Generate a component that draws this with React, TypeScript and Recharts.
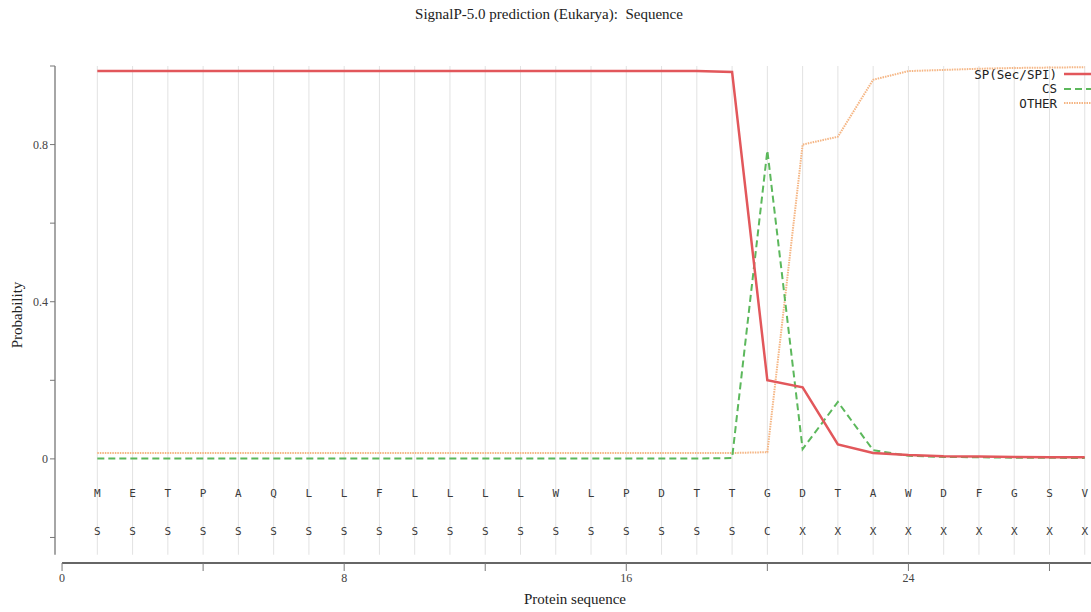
import React from "react";
import {
  ComposedChart, Line, Scatter, XAxis, YAxis, ReferenceLine,
} from "recharts";

// residue positions along the sequence
const positions = [
  1, 2, 3, 4, 5, 6, 7, 8, 9, 10, 11, 12, 13, 14, 15,
  16, 17, 18, 19, 20, 21, 22, 23, 24, 25, 26, 27, 28, 29,
];
const residues = [
  "M", "E", "T", "P", "A", "Q", "L", "L", "F", "L", "L", "L", "L", "W", "L",
  "P", "D", "T", "T", "G", "D", "T", "A", "W", "D", "F", "G", "S", "V",
];
const predLabels = [
  "S", "S", "S", "S", "S", "S", "S", "S", "S", "S", "S", "S", "S", "S", "S",
  "S", "S", "S", "S", "C", "X", "X", "X", "X", "X", "X", "X", "X", "X",
];

const spValues = [
  0.987, 0.987, 0.987, 0.987, 0.987, 0.987, 0.987, 0.987, 0.987, 0.987, 0.987, 0.987, 0.987, 0.987, 0.987,
  0.987, 0.987, 0.987, 0.985, 0.2, 0.182, 0.037, 0.015, 0.01, 0.007, 0.006, 0.005, 0.004, 0.004,
];
const csValues = [
  0.001, 0.001, 0.001, 0.001, 0.001, 0.001, 0.001, 0.001, 0.001, 0.001, 0.001, 0.001, 0.001, 0.001, 0.001,
  0.001, 0.001, 0.001, 0.002, 0.785, 0.025, 0.145, 0.022, 0.008, 0.005, 0.004, 0.003, 0.003, 0.002,
];
const otherValues = [
  0.015, 0.015, 0.015, 0.015, 0.015, 0.015, 0.015, 0.015, 0.015, 0.015, 0.015, 0.015, 0.015, 0.015, 0.015,
  0.015, 0.015, 0.015, 0.015, 0.017, 0.8, 0.82, 0.965, 0.987, 0.99, 0.993, 0.995, 0.996, 0.997,
];

const xTicks = [0, 4, 8, 12, 16, 20, 24, 28];
const xLabelled = [0, 8, 16, 24];
const yTicks = [-0.2, 0, 0.2, 0.4, 0.6, 0.8, 1.0];
const yLabelled = [0, 0.4, 0.8];

const series = [
  { key: "sp", name: "SP(Sec/SPI)", color: "#e2575b", width: 2.5, dash: undefined as string | undefined },
  { key: "cs", name: "CS", color: "#5cb85c", width: 2, dash: "7 4" },
  { key: "other", name: "OTHER", color: "#f5b583", width: 2, dash: "1.5 1" },
];

const data = positions.map((p, i) => ({
  pos: p,
  sp: spValues[i],
  cs: csValues[i],
  other: otherValues[i],
}));

// y positions (data units) of the two letter rows under the curves
const AA_ROW = -0.087;
const LABEL_ROW = -0.186;
const X_MIN = -0.2;
const X_MAX = 30;
const Y_MIN = -0.265;
const GRID_BOTTOM = -0.244;

const aaRow = positions.map((p, i) => ({ pos: p, y: AA_ROW, text: residues[i] }));
const labelRow = positions.map((p, i) => ({ pos: p, y: LABEL_ROW, text: predLabels[i] }));

const mono = "'DejaVu Sans Mono', monospace";
const serif = "'Liberation Serif', 'DejaVu Serif', serif";

// eslint-disable-next-line @typescript-eslint/no-explicit-any
const LetterShape = (props: any) => {
  const { cx, cy, payload } = props;
  return (
    <text x={cx} y={cy} textAnchor="middle" dominantBaseline="central"
      fontFamily={mono} fontSize={11} fill="#3a3a3a">
      {payload.text}
    </text>
  );
};

export default function App() {
  return (
    <div style={{ position: "absolute", left: 0, top: 0, width: 1091, height: 612, overflow: "hidden", background: "#fff" }}>
      <div style={{ position: "absolute", left: 0, width: 1098, top: 6, textAlign: "center", fontFamily: serif, fontSize: 15, color: "#222" }}>
        SignalP-5.0 prediction (Eukarya):&nbsp; Sequence
      </div>

      <ComposedChart width={1130} height={612} data={data}
        margin={{ top: 66, right: 10, left: 15, bottom: 19 }}>
        <XAxis dataKey="pos" type="number" domain={[X_MIN, X_MAX]} ticks={xTicks}
          allowDataOverflow axisLine={false} height={30} tickSize={8}
          tickLine={{ stroke: "#777" }}
          tick={{ fontSize: 12, fontFamily: serif, fill: "#444" }}
          tickFormatter={(v) => (xLabelled.includes(v) ? String(v) : "")} />
        <YAxis type="number" domain={[Y_MIN, 1]} ticks={yTicks} allowDataOverflow
          axisLine={false} width={40} tickSize={5} tickLine={{ stroke: "#777" }}
          tick={{ fontSize: 12, fontFamily: serif, fill: "#444" }}
          tickFormatter={(v) => (yLabelled.some((t) => Math.abs(t - v) < 1e-9) ? String(v) : "")} />

        {positions.map((p) => (
          <ReferenceLine key={`g${p}`} segment={[{ x: p, y: GRID_BOTTOM }, { x: p, y: 1 }]}
            stroke="#e2e2e2" strokeWidth={1} />
        ))}
        <ReferenceLine segment={[{ x: X_MIN, y: GRID_BOTTOM }, { x: X_MIN, y: 1 }]}
          stroke="#888" strokeWidth={1.5} />
        <ReferenceLine segment={[{ x: 0, y: Y_MIN }, { x: X_MAX, y: Y_MIN }]}
          stroke="#666" strokeWidth={1.8} />

        <Scatter data={aaRow} dataKey="y" shape={<LetterShape />} isAnimationActive={false} />
        <Scatter data={labelRow} dataKey="y" shape={<LetterShape />} isAnimationActive={false} />

        {series.slice().reverse().map((s) => (
          <Line key={s.key} type="linear" dataKey={s.key} stroke={s.color}
            strokeWidth={s.width} strokeDasharray={s.dash} dot={false}
            activeDot={false} isAnimationActive={false} />
        ))}
      </ComposedChart>

      <div style={{ position: "absolute", left: 2, top: 315, transform: "translate(0,-50%) rotate(-90deg)", transformOrigin: "center", width: 30, display: "flex", justifyContent: "center" }}>
        <span style={{ fontFamily: serif, fontSize: 15, color: "#222", whiteSpace: "nowrap" }}>Probability</span>
      </div>
      <div style={{ position: "absolute", left: 475, width: 200, top: 591, textAlign: "center", fontFamily: serif, fontSize: 15, color: "#222" }}>
        Protein sequence
      </div>

      <div style={{ position: "absolute", right: 0, top: 67 }}>
        {series.map((s) => (
          <div key={s.key} style={{ display: "flex", alignItems: "center", justifyContent: "flex-end", height: 14.5 }}>
            <span style={{ fontFamily: mono, fontSize: 12.5, color: "#222", marginRight: 7 }}>{s.name}</span>
            <svg width={27} height={6}>
              <line x1={0} y1={3} x2={27} y2={3} stroke={s.color} strokeWidth={s.width} strokeDasharray={s.dash} />
            </svg>
          </div>
        ))}
      </div>
    </div>
  );
}
